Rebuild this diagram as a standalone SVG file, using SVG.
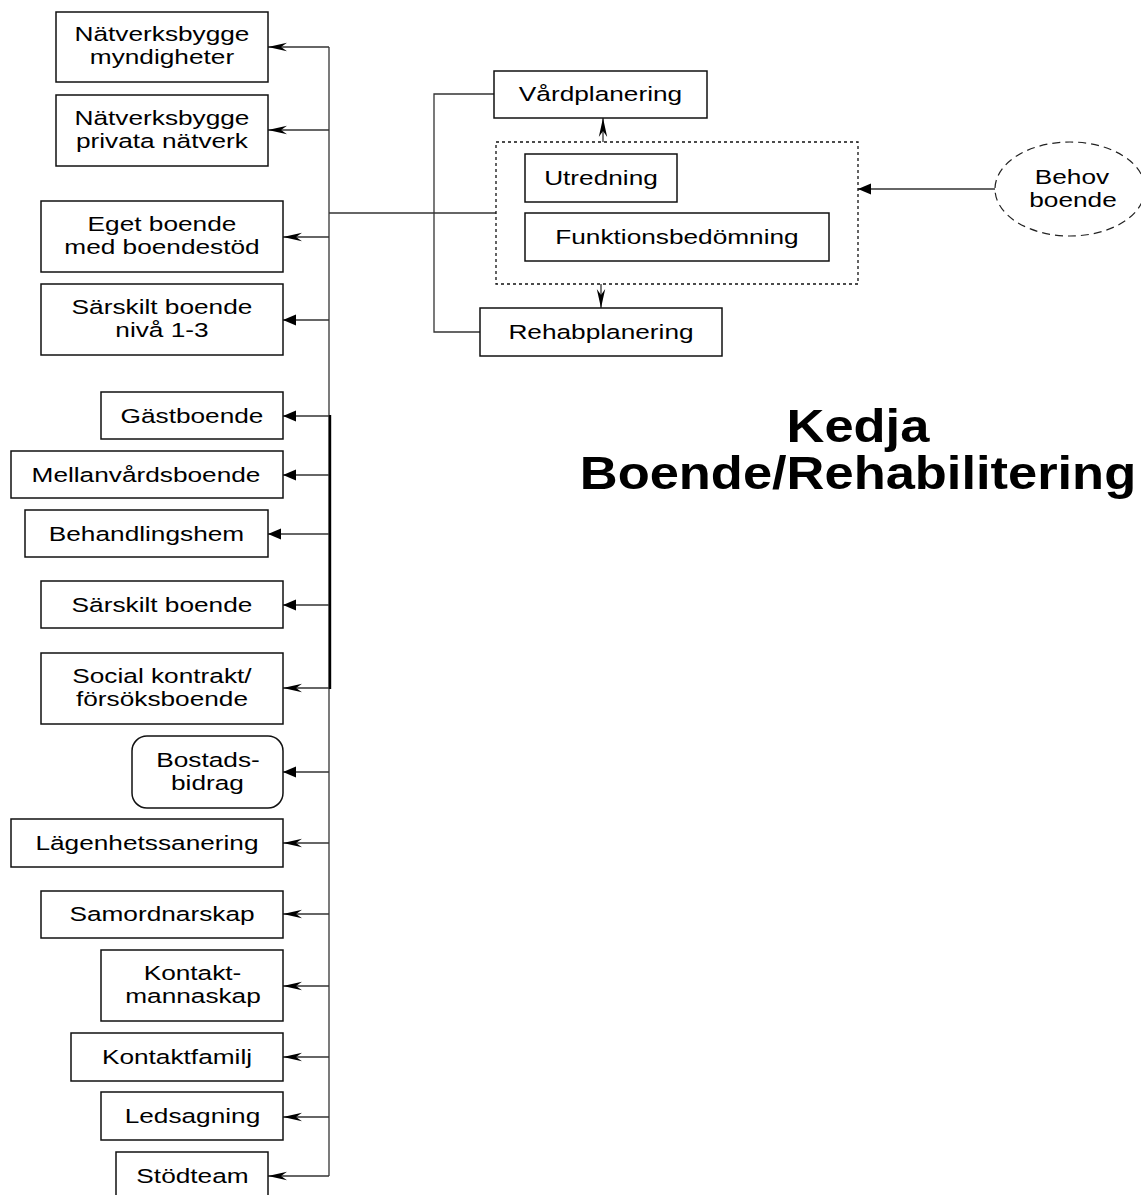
<svg xmlns="http://www.w3.org/2000/svg" width="1141" height="1195" viewBox="0 0 1141 1195">
  <style>
    .box { fill: #fff; stroke: #111; stroke-width: 1.5; }
    .dash { fill: none; stroke: #111; stroke-width: 1.3; stroke-dasharray: 3 3; }
    .oval { fill: #fff; stroke: #222; stroke-width: 1.2; stroke-dasharray: 8 5; }
    .t { font-family: "Liberation Sans", Arial, sans-serif; font-size: 20.5px; fill: #000; text-anchor: middle;
         transform-box: fill-box; transform-origin: center; transform: scaleX(1.28); }
    .title { font-family: "Liberation Sans", Arial, sans-serif; font-size: 46px; font-weight: bold; fill: #000; text-anchor: middle;
             transform-box: fill-box; transform-origin: center; transform: scaleX(1.14); }
    .ln { fill: none; stroke: #333; stroke-width: 1.3; }
    .open { marker-end: url(#open); }
    .solid { marker-end: url(#solid); }
  </style>
  <defs>
    <!-- narrow notched arrowhead -->
    <marker id="open" markerUnits="userSpaceOnUse" viewBox="-22 -6 24 12" refX="0" refY="0" markerWidth="24" markerHeight="12" orient="auto" overflow="visible">
      <path d="M0,0 L-19,-4.2 L-13,0 L-19,4.2 Z" fill="#000"/>
    </marker>
    <!-- solid triangle arrowhead -->
    <marker id="solid" markerUnits="userSpaceOnUse" viewBox="-14 -7 16 14" refX="0" refY="0" markerWidth="16" markerHeight="14" orient="auto" overflow="visible">
      <path d="M0,0 L-13,-5.5 L-13,5.5 Z" fill="#000"/>
    </marker>
  </defs>

  <!-- connectors -->
  <g id="connectors">
    <!-- main trunk -->
    <line class="ln" x1="329" y1="47" x2="329" y2="1176"/>
    <line x1="330" y1="415" x2="330" y2="689" stroke="#000" stroke-width="2.4"/>
    <!-- link from the assessment group to the trunk -->
    <line class="ln" x1="329" y1="213" x2="496" y2="213"/>
    <!-- branches to the service boxes -->
    <line class="ln open" x1="329" y1="47" x2="268" y2="47"/>
    <line class="ln open" x1="329" y1="130" x2="268" y2="130"/>
    <line class="ln open" x1="329" y1="237" x2="283" y2="237"/>
    <line class="ln solid" x1="329" y1="320" x2="283" y2="320"/>
    <line class="ln solid" x1="329" y1="416" x2="283" y2="416"/>
    <line class="ln solid" x1="329" y1="475" x2="283" y2="475"/>
    <line class="ln solid" x1="329" y1="534" x2="268" y2="534"/>
    <line class="ln solid" x1="329" y1="605" x2="283" y2="605"/>
    <line class="ln open" x1="329" y1="688" x2="283" y2="688"/>
    <line class="ln solid" x1="329" y1="772" x2="283" y2="772"/>
    <line class="ln open" x1="329" y1="843" x2="283" y2="843"/>
    <line class="ln open" x1="329" y1="914" x2="283" y2="914"/>
    <line class="ln open" x1="329" y1="986" x2="283" y2="986"/>
    <line class="ln open" x1="329" y1="1057" x2="283" y2="1057"/>
    <line class="ln open" x1="329" y1="1117" x2="283" y2="1117"/>
    <line class="ln open" x1="329" y1="1176" x2="268" y2="1176"/>
    <!-- planning loop -->
    <polyline class="ln" points="494,94 434,94 434,332 480,332"/>
    <line class="ln open" x1="603" y1="142" x2="603" y2="118"/>
    <line class="ln open" x1="601" y1="284" x2="601" y2="308"/>
    <!-- need input -->
    <line class="ln solid" x1="995" y1="189" x2="858" y2="189"/>
  </g>

  <!-- planning and assessment -->
  <g id="vardplanering">
    <rect class="box" x="494" y="71" width="213" height="47"/>
    <text class="t" x="600.5" y="101.5">Vårdplanering</text>
  </g>
  <g id="bedomning">
    <rect class="dash" x="496" y="142" width="362" height="142"/>
  </g>
  <g id="utredning">
    <rect class="box" x="525" y="154" width="152" height="48"/>
    <text class="t" x="601" y="185">Utredning</text>
  </g>
  <g id="funktionsbedomning">
    <rect class="box" x="525" y="213" width="304" height="48"/>
    <text class="t" x="677" y="244">Funktionsbedömning</text>
  </g>
  <g id="rehabplanering">
    <rect class="box" x="480" y="308" width="242" height="48"/>
    <text class="t" x="601" y="339">Rehabplanering</text>
  </g>
  <g id="behov-boende">
    <ellipse class="oval" cx="1070" cy="189" rx="75" ry="47"/>
    <text class="t" x="1072" y="184">Behov</text>
    <text class="t" x="1073" y="207.5">boende</text>
  </g>

  <!-- services -->
  <g id="natverk-myndigheter">
    <rect class="box" x="56" y="12" width="212" height="70"/>
    <text class="t" x="162" y="41.5">Nätverksbygge</text>
    <text class="t" x="162" y="64.5">myndigheter</text>
  </g>
  <g id="natverk-privata">
    <rect class="box" x="56" y="95" width="212" height="71"/>
    <text class="t" x="162" y="125">Nätverksbygge</text>
    <text class="t" x="162" y="148">privata nätverk</text>
  </g>
  <g id="eget-boende">
    <rect class="box" x="41" y="201" width="242" height="71"/>
    <text class="t" x="162" y="231">Eget boende</text>
    <text class="t" x="162" y="254">med boendestöd</text>
  </g>
  <g id="sarskilt-niva">
    <rect class="box" x="41" y="284" width="242" height="71"/>
    <text class="t" x="162" y="314.5">Särskilt boende</text>
    <text class="t" x="162" y="337.5">nivå 1-3</text>
  </g>
  <g id="gastboende">
    <rect class="box" x="101" y="392" width="182" height="47"/>
    <text class="t" x="192" y="423">Gästboende</text>
  </g>
  <g id="mellanvardsboende">
    <rect class="box" x="11" y="451" width="272" height="47"/>
    <text class="t" x="146" y="482">Mellanvårdsboende</text>
  </g>
  <g id="behandlingshem">
    <rect class="box" x="25" y="510" width="243" height="47"/>
    <text class="t" x="146.5" y="541">Behandlingshem</text>
  </g>
  <g id="sarskilt-boende">
    <rect class="box" x="41" y="581" width="242" height="47"/>
    <text class="t" x="162" y="612">Särskilt boende</text>
  </g>
  <g id="social-kontrakt">
    <rect class="box" x="41" y="653" width="242" height="71"/>
    <text class="t" x="162" y="683">Social kontrakt/</text>
    <text class="t" x="162" y="706">försöksboende</text>
  </g>
  <g id="bostadsbidrag">
    <rect class="box" x="132" y="736" width="151" height="72" rx="15" ry="15"/>
    <text class="t" x="208" y="767">Bostads-</text>
    <text class="t" x="207.5" y="790">bidrag</text>
  </g>
  <g id="lagenhetssanering">
    <rect class="box" x="11" y="819" width="272" height="48"/>
    <text class="t" x="147" y="850">Lägenhetssanering</text>
  </g>
  <g id="samordnarskap">
    <rect class="box" x="41" y="891" width="242" height="47"/>
    <text class="t" x="162" y="921.5">Samordnarskap</text>
  </g>
  <g id="kontaktmannaskap">
    <rect class="box" x="101" y="950" width="182" height="71"/>
    <text class="t" x="192.5" y="980.5">Kontakt-</text>
    <text class="t" x="193" y="1003.5">mannaskap</text>
  </g>
  <g id="kontaktfamilj">
    <rect class="box" x="71" y="1033" width="212" height="48"/>
    <text class="t" x="177" y="1064">Kontaktfamilj</text>
  </g>
  <g id="ledsagning">
    <rect class="box" x="101" y="1092" width="182" height="48"/>
    <text class="t" x="192.5" y="1123.5">Ledsagning</text>
  </g>
  <g id="stodteam">
    <rect class="box" x="116" y="1152" width="152" height="48"/>
    <text class="t" x="192.5" y="1183">Stödteam</text>
  </g>

  <!-- heading -->
  <g id="rubrik">
    <text class="title" x="858" y="442">Kedja</text>
    <text class="title" x="858" y="489">Boende/Rehabilitering</text>
  </g>
</svg>
